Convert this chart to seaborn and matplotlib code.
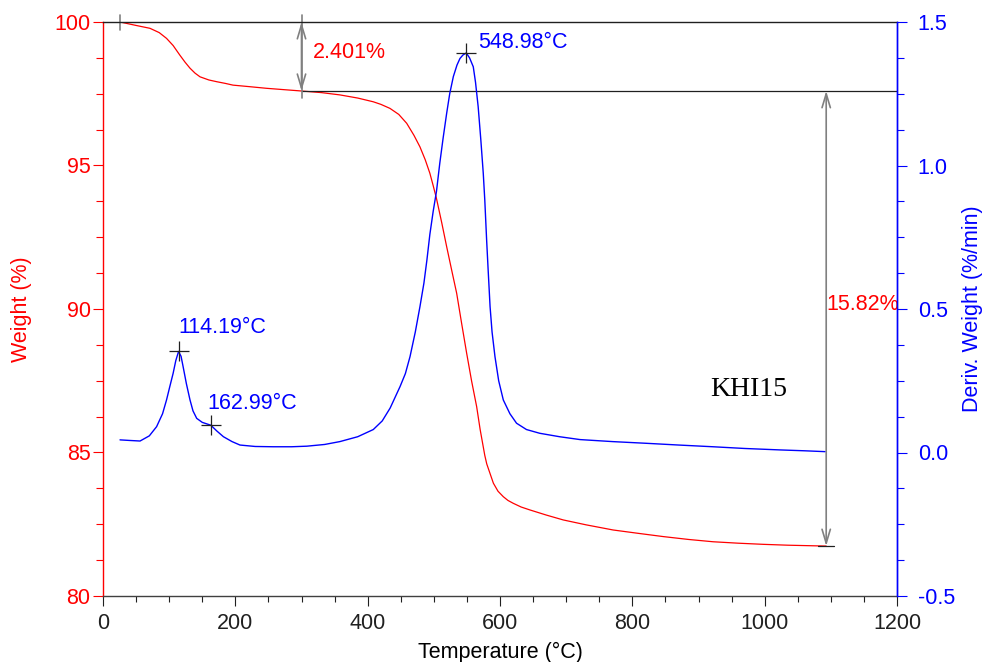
import numpy as np
import pandas as pd
import matplotlib
matplotlib.use("Agg")
import matplotlib.pyplot as plt
import seaborn as sns

# ---------------- data ----------------
temp_weight = [25.7, 50, 71, 85, 96, 106, 116, 124, 131.5, 139, 146.6, 160, 171.8, 185,
               196.5, 220, 247, 275, 297.7, 330, 358, 385, 408.5, 420, 433.7, 447, 459,
               470, 479, 487, 494, 499, 504, 512, 519.4, 527, 534.5, 542, 549.6, 557,
               564.7, 570, 577, 580, 590, 597, 605, 612, 620, 632, 645, 670, 695.6, 730,
               771, 810, 846.8, 885, 922, 960, 998, 1035, 1073, 1093]
weight = [100.0, 99.88, 99.78, 99.63, 99.43, 99.18, 98.85, 98.6, 98.39, 98.22, 98.09,
          97.98, 97.92, 97.86, 97.8, 97.75, 97.69, 97.64, 97.6, 97.54, 97.46, 97.35,
          97.22, 97.13, 96.99, 96.78, 96.47, 96.05, 95.65, 95.2, 94.73, 94.3, 93.85,
          93.0, 92.17, 91.35, 90.55, 89.5, 88.46, 87.5, 86.6, 85.8, 84.9, 84.6, 83.93,
          83.65, 83.46, 83.33, 83.23, 83.1, 83.0, 82.82, 82.65, 82.48, 82.3, 82.18,
          82.07, 81.97, 81.89, 81.84, 81.8, 81.77, 81.75, 81.74]

temp_deriv = [25.7, 40, 56, 70, 81, 90, 96, 101, 106, 110, 114.2, 118, 121, 126, 131.5,
              136, 141.6, 150, 163, 172, 182, 195, 207, 230, 257, 285, 308, 335, 358,
              385, 408.5, 422, 434, 449, 457, 464, 472, 479, 485, 489.5, 494, 499, 504,
              509, 514, 519.4, 524, 529.5, 535, 539.5, 544, 549, 554, 559.6, 563, 567,
              571, 574.7, 577, 579.8, 582, 585, 588, 592.4, 598, 605, 615, 625, 640,
              660, 690, 721, 770, 821.6, 870, 922, 970, 1023, 1060, 1091]
deriv = [0.044, 0.042, 0.04, 0.058, 0.09, 0.135, 0.183, 0.23, 0.276, 0.32, 0.352, 0.335,
         0.30, 0.24, 0.183, 0.145, 0.119, 0.105, 0.095, 0.075, 0.055, 0.038, 0.026,
         0.021, 0.02, 0.02, 0.022, 0.028, 0.038, 0.055, 0.08, 0.11, 0.155, 0.23, 0.275,
         0.334, 0.42, 0.508, 0.59, 0.67, 0.76, 0.84, 0.91, 1.008, 1.095, 1.182, 1.25,
         1.31, 1.35, 1.373, 1.385, 1.392, 1.375, 1.344, 1.29, 1.205, 1.09, 0.973, 0.88,
         0.74, 0.64, 0.508, 0.42, 0.334, 0.25, 0.183, 0.135, 0.102, 0.08, 0.067, 0.055,
         0.045, 0.038, 0.032, 0.026, 0.02, 0.014, 0.009, 0.006, 0.003]

peak_temps = [114.19, 162.99, 548.98]
peak_derivs = [0.352, 0.095, 1.392]
peak_labels = ["114.19°C", "162.99°C", "548.98°C"]

x_ticks = [0, 200, 400, 600, 800, 1000, 1200]
w_ticks = [80, 85, 90, 95, 100]
d_ticks = [-0.5, 0.0, 0.5, 1.0, 1.5]
d_tick_labels = ["-0.5", "0.0", "0.5", "1.0", "1.5"]

step1 = (25.7, 300.0, 100.0, 97.6, "2.401%")
step2 = (1093.0, 97.6, 81.74, "15.82%")
sample_name = "KHI15"

# ---------------- plot ----------------
sns.set_style("ticks")
plt.rcParams["font.family"] = ["Liberation Sans", "DejaVu Sans"]

RED = "#FF0000"
BLUE = "#0000FF"
GRAY = "#808080"

fig = plt.figure(figsize=(9.86, 6.62), dpi=100)
ax = fig.add_axes([103 / 986, 1 - 596 / 662, 794 / 986, 574 / 662])
ax2 = ax.twinx()

dfw = pd.DataFrame({"T": temp_weight, "W": weight})
dfd = pd.DataFrame({"T": temp_deriv, "D": deriv})
sns.lineplot(data=dfw, x="T", y="W", ax=ax, color=RED, lw=0.9, sort=False)
sns.lineplot(data=dfd, x="T", y="D", ax=ax2, color=BLUE, lw=1.0, sort=False)

ax.set_xlim(0, 1200)
ax.set_ylim(80, 100)
ax2.set_ylim(-0.5, 1.5)

ax.set_xticks(x_ticks)
ax.set_xticks(np.arange(0, 1201, 50), minor=True)
ax.set_yticks(w_ticks)
ax.set_yticks(np.arange(80, 100.01, 1.25), minor=True)
ax2.set_yticks(d_ticks)
ax2.set_yticklabels(d_tick_labels)
ax2.set_yticks(np.arange(-0.5, 1.501, 0.125), minor=True)

fs = 15.5
ax.tick_params(axis="x", which="both", direction="out", colors="#202020", labelsize=fs, pad=5)
ax.tick_params(axis="x", which="major", length=7, width=0.8)
ax.tick_params(axis="x", which="minor", length=4, width=0.8)
ax.tick_params(axis="y", which="both", direction="out", color=RED, labelcolor=RED, labelsize=fs, pad=2)
ax.tick_params(axis="y", which="major", length=7, width=0.8)
ax.tick_params(axis="y", which="minor", length=5, width=0.8)
ax2.tick_params(axis="y", which="both", direction="out", color=BLUE, labelcolor=BLUE, labelsize=fs, pad=8)
ax2.tick_params(axis="y", which="major", length=7, width=0.8)
ax2.tick_params(axis="y", which="minor", length=5, width=0.8)

for a in (ax, ax2):
    a.spines["left"].set_color(RED)
    a.spines["right"].set_color(BLUE)
    a.spines["bottom"].set_color("#404040")
    a.spines["top"].set_color("#202020")
    for s in a.spines.values():
        s.set_linewidth(1.0)
ax2.spines["top"].set_visible(False)
ax2.spines["left"].set_visible(False)
ax2.spines["bottom"].set_visible(False)

ax.set_xlabel("Temperature (°C)", fontsize=fs, color="black", labelpad=6)
ax.set_ylabel("Weight (%)", fontsize=fs, color=RED, labelpad=16)
ax2.set_ylabel("Deriv. Weight (%/min)", fontsize=fs, color=BLUE, labelpad=5)

# step annotation 1
t0, t1, w0, w1, lab1 = step1
ax.plot([t0, t0], [100.25, 99.72], color=GRAY, lw=1.2, clip_on=False)
ax.plot([t1, 1200], [w1, w1], color="#202020", lw=0.9)
ax.plot([t1, t1], [w0 + 0.25, w1 - 0.25], color=GRAY, lw=1.2, clip_on=False)
ax.annotate("", xy=(t1, w1), xytext=(t1, w0),
            arrowprops=dict(arrowstyle="<->,head_length=1.0,head_width=0.3",
                            color=GRAY, lw=1.2, shrinkA=0, shrinkB=0))
ax.text(t1 + 17, 98.92, lab1, color=RED, fontsize=fs, ha="left", va="center")

# step annotation 2
t2, w2a, w2b, lab2 = step2
ax.plot([t2 - 12, t2 + 12], [w2b, w2b], color="#202020", lw=0.9)
ax.annotate("", xy=(t2, w2b), xytext=(t2, w2a),
            arrowprops=dict(arrowstyle="<->,head_length=1.0,head_width=0.3",
                            color=GRAY, lw=1.2, shrinkA=0, shrinkB=0))
ax.text(t2 + 1, 90.14, lab2, color=RED, fontsize=fs, ha="left", va="center")

# peaks
ax2.plot(peak_temps, peak_derivs, linestyle="none", marker="+", color="#202020",
         markersize=15, markeredgewidth=0.9)
offsets = [(-1, 0.082), (-6, 0.074), (18, 0.038)]
for t, d, lab, (dx, dy) in zip(peak_temps, peak_derivs, peak_labels, offsets):
    ax2.text(t + dx, d + dy, lab, color=BLUE, fontsize=fs, ha="left", va="center")

ax.text(917, 87.18, sample_name, fontsize=20, family=["Liberation Serif"],
        color="black", ha="left", va="center")

fig.savefig("out.png", dpi=100)
